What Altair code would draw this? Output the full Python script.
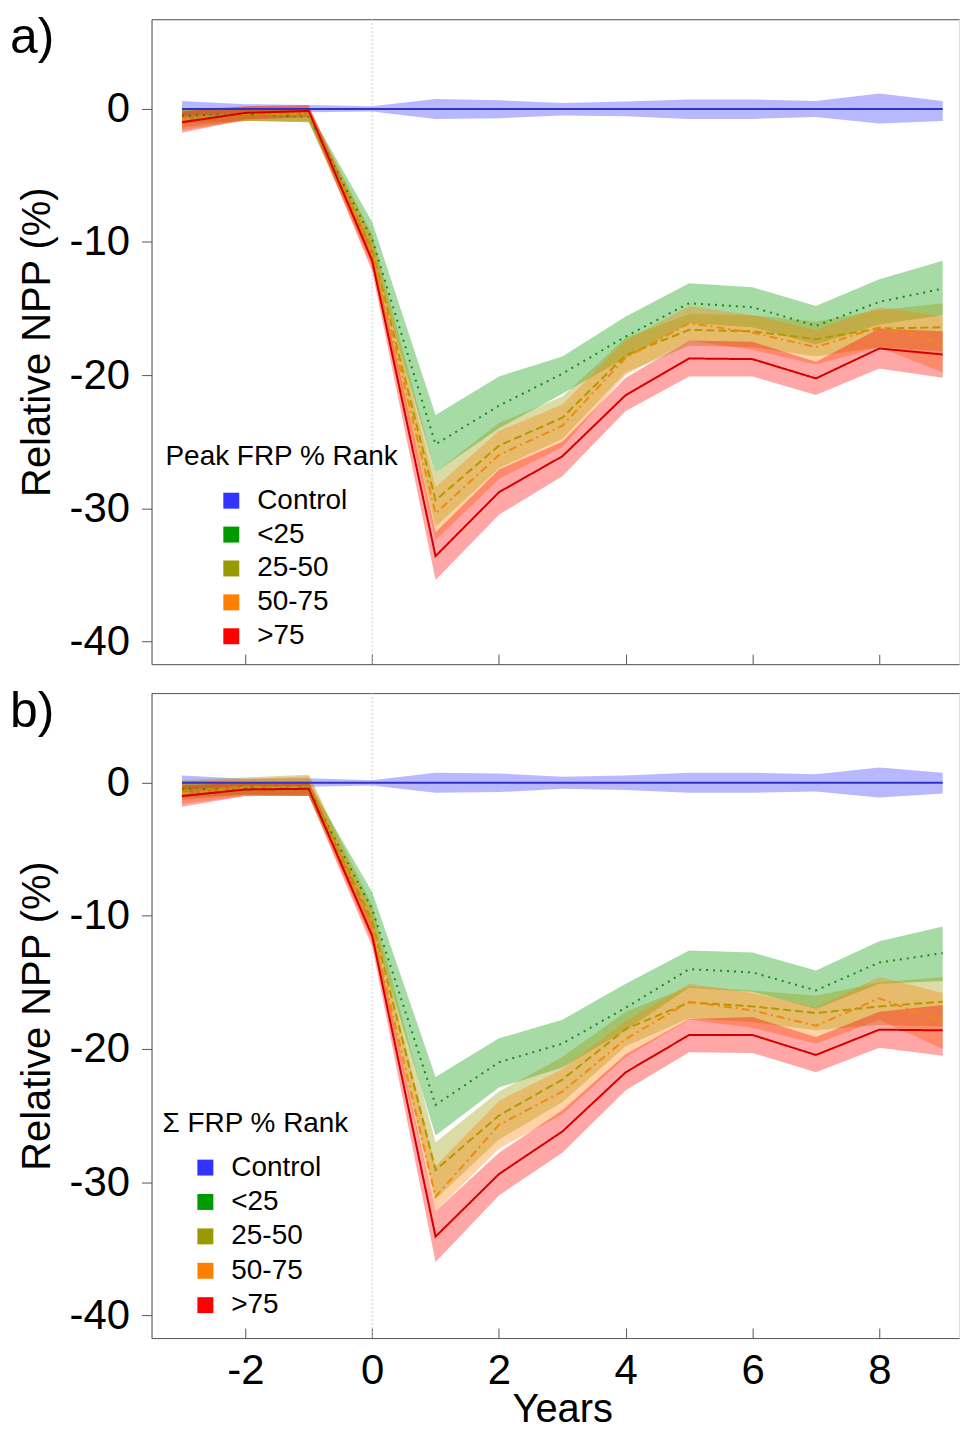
import altair as alt
import pandas as pd

# ---------------- data ----------------
YEARS = [-3, -2, -1, 0, 1, 2, 3, 4, 5, 6, 7, 8, 9]
SERIES = ["Control", "<25", "25-50", "50-75", ">75"]
EVENT_YEAR = [0]
X_TICKS = [-2, 0, 2, 4, 6, 8]
Y_TICKS = [-40, -30, -20, -10, 0]

# Panel a) Peak FRP % Rank
A_CTRL_MEAN = [0, 0, 0, 0, 0, 0, 0, 0, 0, 0, 0, 0, 0]
A_CTRL_LO = [-0.5, -0.3, -0.25, -0.2, -0.75, -0.7, -0.5, -0.55, -0.75, -0.75, -0.6, -1.1, -0.9]
A_CTRL_HI = [0.6, 0.35, 0.3, 0.2, 0.75, 0.65, 0.45, 0.55, 0.7, 0.7, 0.6, 1.15, 0.6]

A_G_MEAN = [-0.5, -0.4, -0.6, -9.8, -25.2, -22.3, -19.9, -17.1, -14.6, -14.9, -16.3, -14.5, -13.5]
A_G_LO = [-1.1, -0.9, -1.0, -11.0, -27.3, -24.0, -21.4, -18.7, -16.1, -16.4, -17.7, -16.2, -15.5]
A_G_HI = [0.0, 0.0, -0.1, -8.5, -23.0, -20.1, -18.6, -15.6, -13.1, -13.4, -14.8, -12.8, -11.4]

A_O_MEAN = [-0.7, -0.4, -0.5, -10.5, -29.4, -25.3, -23.2, -18.5, -16.6, -16.7, -17.3, -16.5, -16.4]
A_O_LO = [-1.4, -0.9, -1.0, -11.6, -31.4, -27.0, -24.8, -19.8, -17.8, -17.9, -18.6, -17.9, -18.2]
A_O_HI = [0.0, 0.1, 0.0, -9.4, -27.3, -23.6, -21.6, -17.2, -15.4, -15.5, -16.0, -15.1, -14.6]

A_OR_MEAN = [-0.8, -0.35, -0.35, -10.8, -30.4, -26.0, -23.8, -18.7, -16.1, -16.8, -17.9, -16.4, -17.6]
A_OR_LO = [-1.6, -0.9, -0.9, -11.9, -32.4, -27.8, -25.4, -20.0, -17.4, -18.1, -19.2, -17.9, -19.8]
A_OR_HI = [0.0, 0.2, 0.2, -9.7, -28.4, -24.2, -22.2, -17.4, -14.8, -15.5, -16.6, -14.9, -15.6]

A_R_MEAN = [-1.0, -0.3, -0.15, -11.4, -33.6, -28.8, -26.1, -21.5, -18.75, -18.8, -20.25, -18.0, -18.45]
A_R_LO = [-1.8, -0.8, -0.6, -12.2, -35.4, -30.5, -27.6, -22.7, -20.1, -20.1, -21.5, -19.5, -20.2]
A_R_HI = [-0.2, 0.2, 0.3, -10.6, -31.8, -27.1, -25.0, -20.2, -17.4, -17.5, -19.0, -16.5, -16.7]

# Panel b) Sum FRP % Rank
B_CTRL_MEAN = [0, 0, 0, 0, 0, 0, 0, 0, 0, 0, 0, 0, 0]
B_CTRL_LO = [-0.5, -0.3, -0.3, -0.2, -0.75, -0.7, -0.45, -0.55, -0.75, -0.75, -0.65, -1.1, -0.8]
B_CTRL_HI = [0.55, 0.3, 0.35, 0.2, 0.75, 0.7, 0.45, 0.55, 0.75, 0.75, 0.65, 1.15, 0.75]

B_G_MEAN = [-0.5, -0.4, -0.5, -9.5, -24.2, -21.0, -19.6, -16.9, -14.0, -14.25, -15.6, -13.5, -12.8]
B_G_LO = [-1.1, -0.9, -1.0, -10.8, -26.5, -22.9, -21.4, -18.6, -15.4, -15.7, -17.0, -15.1, -14.9]
B_G_HI = [0.1, 0.1, 0.0, -8.2, -22.1, -19.2, -17.8, -15.1, -12.6, -12.75, -14.1, -11.9, -10.8]

B_O_MEAN = [-0.6, -0.3, -0.3, -10.4, -29.1, -25.0, -22.3, -18.5, -16.5, -16.8, -17.3, -16.8, -16.45]
B_O_LO = [-1.3, -0.9, -0.9, -11.6, -31.3, -26.8, -24.0, -19.8, -17.7, -18.0, -18.6, -18.2, -18.3]
B_O_HI = [0.2, 0.4, 0.6, -9.2, -27.0, -23.2, -20.6, -17.2, -15.3, -15.6, -16.0, -15.0, -14.6]

B_OR_MEAN = [-0.8, -0.4, -0.4, -10.8, -31.1, -25.7, -23.2, -19.25, -16.45, -17.1, -18.25, -16.2, -17.95]
B_OR_LO = [-1.6, -1.0, -1.0, -11.9, -32.2, -27.5, -24.9, -20.6, -17.8, -18.4, -19.6, -17.8, -20.0]
B_OR_HI = [0.1, 0.3, 0.5, -9.7, -28.8, -23.9, -21.5, -17.9, -15.1, -15.8, -16.9, -14.6, -15.8]

B_R_MEAN = [-1.0, -0.5, -0.45, -11.5, -34.1, -29.4, -26.2, -21.75, -18.95, -18.95, -20.45, -18.55, -18.6]
B_R_LO = [-1.8, -1.0, -1.0, -12.3, -36.0, -31.0, -27.8, -23.1, -20.25, -20.3, -21.75, -19.9, -20.5]
B_R_HI = [-0.2, 0.0, 0.1, -10.7, -32.2, -27.8, -24.6, -20.4, -17.75, -17.6, -19.1, -17.2, -16.7]

# ---------------- styles ----------------
LEGEND_COLORS = ["#3333ff", "#009900", "#999900", "#ff8000", "#ff0000"]
LINE_COLORS = ["#3232c8", "#1b8a1b", "#b09a00", "#f08a10", "#d40000"]
DASHES = [[1, 0], [2, 5], [8, 4], [8, 4, 2, 4], [1, 0]]
FONT = "Liberation Sans"
W, H = 810, 647
XDOM = [-3.48, 9.257]
YDOM = [-41.72, 6.74]
AXCOL = "#555555"


def build(means, los, his):
    rows = []
    for s, m, l, h in zip(SERIES, means, los, his):
        for yr, mv, lv, hv in zip(YEARS, m, l, h):
            rows.append({"year": yr, "series": s, "mean": mv, "lo": lv, "hi": hv})
    return pd.DataFrame(rows)


df_a = build([A_CTRL_MEAN, A_G_MEAN, A_O_MEAN, A_OR_MEAN, A_R_MEAN],
             [A_CTRL_LO, A_G_LO, A_O_LO, A_OR_LO, A_R_LO],
             [A_CTRL_HI, A_G_HI, A_O_HI, A_OR_HI, A_R_HI])
df_b = build([B_CTRL_MEAN, B_G_MEAN, B_O_MEAN, B_OR_MEAN, B_R_MEAN],
             [B_CTRL_LO, B_G_LO, B_O_LO, B_OR_LO, B_R_LO],
             [B_CTRL_HI, B_G_HI, B_O_HI, B_OR_HI, B_R_HI])


def panel(df, label, legend_title, lx, ly, sym_off, row_pad, show_x_labels):
    xs = alt.Scale(domain=XDOM, nice=False, zero=False)
    ys = alt.Scale(domain=YDOM, nice=False, zero=False)
    yax = alt.Axis(values=Y_TICKS, title="Relative NPP (%)", labelExpr="datum.value + ''",
                   labelFontSize=42, labelFont=FONT, labelColor="black", labelPadding=12,
                   tickSize=10, tickColor=AXCOL, domainColor=AXCOL, grid=False,
                   titleFontSize=40, titleFont=FONT, titleFontWeight="normal", titleColor="black",
                   titleX=-114, titleY=H / 2, titleAngle=270, titleAlign="center",
                   titleBaseline="middle")
    if show_x_labels:
        xax = alt.Axis(values=X_TICKS, orient="bottom", ticks=False, tickSize=0,
                       labelExpr="datum.value + ''", labelFontSize=42, labelFont=FONT,
                       labelColor="black", labelPadding=13, domainColor=AXCOL, grid=False,
                       title="Years", titleX=412, titleY=52, titleAlign="center",
                       titleBaseline="top", titleFontSize=40, titleFont=FONT,
                       titleFontWeight="normal", titleColor="black")
    else:
        xax = alt.Axis(values=X_TICKS, orient="bottom", ticks=False, tickSize=0,
                       labels=False, title=None, domainColor=AXCOL, grid=False)
    top_ax = alt.Axis(orient="top", ticks=False, labels=False, title=None,
                      domainColor=AXCOL, grid=False, values=X_TICKS)
    inner_ax = alt.Axis(orient="top", offset=-H, values=X_TICKS, ticks=True, tickSize=10,
                        tickColor=AXCOL, labels=False, domain=False, title=None, grid=False)

    zero = alt.Chart(pd.DataFrame({"year": EVENT_YEAR})).mark_rule(
        color="#cccccc", strokeDash=[2, 2], strokeWidth=1
    ).encode(x=alt.X("year:Q", scale=xs, axis=inner_ax))

    bands = alt.Chart(df).mark_area(opacity=0.35).encode(
        x=alt.X("year:Q", scale=xs, axis=xax),
        y=alt.Y("lo:Q", scale=ys, axis=yax, stack=None),
        y2="hi:Q",
        fill=alt.Fill("series:N", sort=SERIES,
                      scale=alt.Scale(domain=SERIES, range=LEGEND_COLORS),
                      legend=alt.Legend(title=legend_title, orient="none", legendX=lx, legendY=ly,
                                        symbolType="square", symbolSize=256, symbolOpacity=1,
                                        symbolStrokeWidth=0, symbolOffset=sym_off, labelOffset=12,
                                        labelFontSize=28, labelFont=FONT, labelColor="black",
                                        titleFontSize=28, titleFont=FONT, titleFontWeight="normal",
                                        titleColor="black", titlePadding=16, rowPadding=row_pad,
                                        padding=0, titleLimit=500)),
    )

    lines = alt.Chart(df).mark_line(strokeWidth=2).encode(
        x=alt.X("year:Q", scale=xs, axis=top_ax),
        y=alt.Y("mean:Q", scale=ys, axis=yax),
        stroke=alt.Stroke("series:N", sort=SERIES,
                          scale=alt.Scale(domain=SERIES, range=LINE_COLORS), legend=None),
        strokeDash=alt.StrokeDash("series:N", sort=SERIES,
                                  scale=alt.Scale(domain=SERIES, range=DASHES), legend=None),
    )

    lab = alt.Chart(pd.DataFrame({"t": [label]})).mark_text(
        align="left", baseline="top", fontSize=50, font=FONT, color="black"
    ).encode(text="t:N", x=alt.value(-142), y=alt.value(-6))

    return alt.layer(zero, bands, lines, lab).resolve_axis(x="independent").properties(
        width=W, height=H)


pa = panel(df_a, "a)", "Peak FRP % Rank", 14, 425, 52, 6, False)
pb = panel(df_b, "b)", "\u03a3 FRP % Rank", 11, 418, 29, 6.5, True)

chart = alt.vconcat(pa, pb, spacing=21).resolve_scale(
    fill="independent", stroke="independent", strokeDash="independent"
).resolve_legend(fill="independent").properties(
    padding={"left": 1, "top": 2, "right": 0, "bottom": 0}
).configure_view(stroke=None).configure(font=FONT)

chart.save("out.html", embed_options={"renderer": "svg", "actions": False})
